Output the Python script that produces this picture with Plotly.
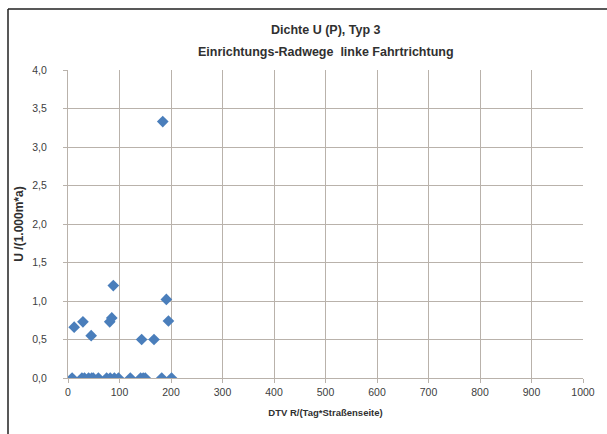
import plotly.graph_objects as go

# DTV per direction (x) and accident density (y)
dtv_nonzero = [12, 29, 45, 81, 85, 88, 143, 167, 184, 191, 195]
u_nonzero = [0.66, 0.73, 0.55, 0.73, 0.78, 1.2, 0.5, 0.5, 3.33, 1.02, 0.74]
dtv_zero = [8, 27, 32, 40, 46, 49, 59, 75, 82, 90, 98, 121, 141, 146, 150, 182, 201]
u_zero = [0.0] * len(dtv_zero)

x_ticks = [0, 100, 200, 300, 400, 500, 600, 700, 800, 900, 1000]
y_ticks = [0.0, 0.5, 1.0, 1.5, 2.0, 2.5, 3.0, 3.5, 4.0]
y_labels = [f"{v:.1f}".replace(".", ",") for v in y_ticks]

title_line1 = "Dichte U (P), Typ 3"
title_line2 = "Einrichtungs-Radwege  linke Fahrtrichtung"

x_vals = dtv_zero + dtv_nonzero
y_vals = u_zero + u_nonzero

font_main = "Liberation Sans, Arial, sans-serif"
grid_col = "#b9b2ab"
marker_col = "#4a7ebb"
title_font = dict(family=font_main, size=12.5, color="#303030")

fig = go.Figure(
    go.Scatter(
        x=x_vals,
        y=y_vals,
        mode="markers",
        marker=dict(symbol="diamond", size=9, color=marker_col,
                    line=dict(width=0)),
        hoverinfo="skip",
    )
)

fig.update_layout(
    width=607,
    height=434,
    margin=dict(l=68, r=24, t=70, b=56),
    paper_bgcolor="white",
    plot_bgcolor="white",
    showlegend=False,
    font=dict(family=font_main, size=10, color="#404040"),
    annotations=[
        dict(text=f"<b>{title_line1}</b>", xref="paper", yref="paper",
             x=0.5, y=1 + 40 / 307.7, xanchor="center", yanchor="middle",
             showarrow=False, font=title_font),
        dict(text=f"<b>{title_line2}</b>", xref="paper", yref="paper",
             x=0.5, y=1 + 18 / 307.7, xanchor="center", yanchor="middle",
             showarrow=False, font=title_font),
    ],
    xaxis=dict(
        range=[0, 1000],
        tickvals=x_ticks,
        ticktext=[str(v) for v in x_ticks],
        showgrid=True,
        gridcolor=grid_col,
        gridwidth=1,
        zeroline=False,
        showline=True,
        linecolor=grid_col,
        ticks="outside",
        ticklen=4,
        tickcolor=grid_col,
        tickfont=dict(size=10.5, color="#404040"),
        title=dict(text="<b>DTV R/(Tag*Straßenseite)</b>",
                   font=dict(size=9.5, color="#303030"), standoff=12),
        fixedrange=True,
    ),
    yaxis=dict(
        range=[0, 4.0],
        tickvals=y_ticks,
        ticktext=y_labels,
        showgrid=True,
        gridcolor=grid_col,
        gridwidth=1,
        zeroline=False,
        showline=True,
        linecolor=grid_col,
        ticks="outside",
        ticklen=4,
        tickcolor=grid_col,
        ticklabelstandoff=14,
        tickfont=dict(size=10.5, color="#404040"),
        title=dict(text="<b>U /(1.000m*a)</b>",
                   font=dict(size=12, color="#303030"), standoff=6),
        fixedrange=True,
    ),
    shapes=[
        # outer chart frame (top and left edges visible)
        dict(type="line", xref="paper", yref="paper",
             x0=-60 / 515, x1=1.1, y0=1 + 61 / 307.7, y1=1 + 61 / 307.7,
             line=dict(color="#202020", width=1.5)),
        dict(type="line", xref="paper", yref="paper",
             x0=-60 / 515, x1=-60 / 515, y0=-0.3, y1=1 + 61 / 307.7,
             line=dict(color="#202020", width=1.5)),
    ],
)

fig.write_html("out.html")
